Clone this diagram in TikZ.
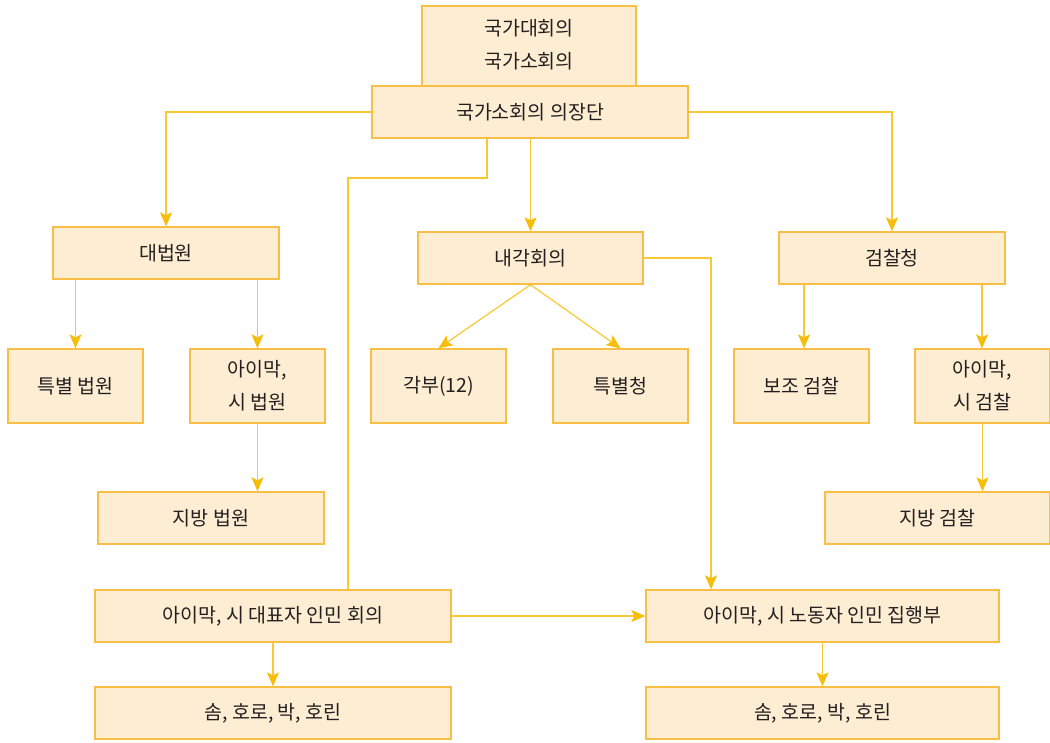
\documentclass[tikz,border=0pt]{standalone}
\usepackage{fontspec}
\setmainfont{Noto Sans CJK KR}
\usetikzlibrary{arrows.meta}
\definecolor{boxfill}{HTML}{FDEDD2}
\definecolor{boxline}{HTML}{F8BE45}
\definecolor{conn}{HTML}{F9C832}
\definecolor{tip}{HTML}{F6BE0A}
\definecolor{txt}{HTML}{231F20}
\tikzset{
  lbl/.style={text=txt, font=\fontsize{19.5}{33}\selectfont, align=center},
  orgbox/.style={lbl, draw=boxline, fill=boxfill, line width=1.4pt, inner sep=0pt},
  wide/.style={orgbox, minimum width=226pt, minimum height=52pt},
  small/.style={orgbox, minimum width=135pt, minimum height=74pt},
  conline/.style={draw=conn, line width=1.2pt},
  arr/.style={conline, -{Stealth[length=14pt, width=12pt, inset=3pt, fill=tip, color=tip]}}
}
\begin{document}
\begin{tikzpicture}[x=1pt,y=-1pt]
\useasboundingbox (0,0) rectangle (1050,742);
\fill[white] (0,0) rectangle (1050,742);
% nodes
\node[orgbox, minimum width=214pt, minimum height=80pt] (top) at (529,46) {};
\node[lbl] (toptext) at (529,45) {국가대회의\\국가소회의};
\node[orgbox, minimum width=316pt, minimum height=52pt] (chair) at (530,112) {국가소회의 의장단};
\node[wide] (sc) at (166,253) {대법원};
\node[wide, minimum width=225pt] (cab) at (530.5,258) {내각회의};
\node[wide] (pro) at (892,258) {검찰청};
\node[small] (spc) at (75.5,386) {특별 법원};
\node[small] (acourt) at (257.5,386) {아이막,\\시 법원};
\node[small] (min) at (438.5,386) {각부(12)};
\node[small] (spa) at (620.5,386) {특별청};
\node[small] (aux) at (801.5,386) {보조 검찰};
\node[small] (apro) at (982.5,386) {아이막,\\시 검찰};
\node[wide] (lcourt) at (211,518) {지방 법원};
\node[wide, minimum width=225pt] (lpro) at (937.5,518) {지방 검찰};
\node[wide, minimum width=356pt] (rep) at (273,616) {아이막, 시 대표자 인민 회의};
\node[wide, minimum width=353pt] (exe) at (822.5,616) {아이막, 시 노동자 인민 집행부};
\node[wide, minimum width=356pt] (sl) at (273,713) {솜, 호로, 박, 호린};
\node[wide, minimum width=353pt] (sr) at (822.5,713) {솜, 호로, 박, 호린};
% connectors
\draw[arr] (chair.west) -| (sc.north);
\draw[arr] (chair.east) -| (pro.north);
\draw[arr] (chair.south -| cab.north) -- (cab.north);
\coordinate (c1) at (487,178);
\coordinate (c2) at (348,178);
\draw[conline] (chair.south -| c1) -- (c1) -- (c2) -- (rep.north -| c2);
\coordinate (c3) at (711,258);
\draw[arr] (cab.east) -- (c3) -- (exe.north -| c3);
\draw[arr] (cab.south) -- (min.north);
\draw[arr] (cab.south) -- (spa.north);
\draw[arr] (sc.south -| spc.north) -- (spc.north);
\draw[arr] (sc.south -| acourt.north) -- (acourt.north);
\draw[arr] (acourt.south) -- (acourt.south |- lcourt.north);
\coordinate (c4) at (804,0);
\coordinate (c5) at (982,0);
\draw[arr] (pro.south -| c4) -- (aux.north -| c4);
\draw[arr] (pro.south -| c5) -- (apro.north -| c5);
\draw[arr] (apro.south) -- (apro.south |- lpro.north);
\draw[arr] (rep.east) -- (exe.west);
\draw[arr] (rep.south) -- (sl.north);
\draw[arr] (exe.south) -- (sr.north);
\end{tikzpicture}
\end{document}
